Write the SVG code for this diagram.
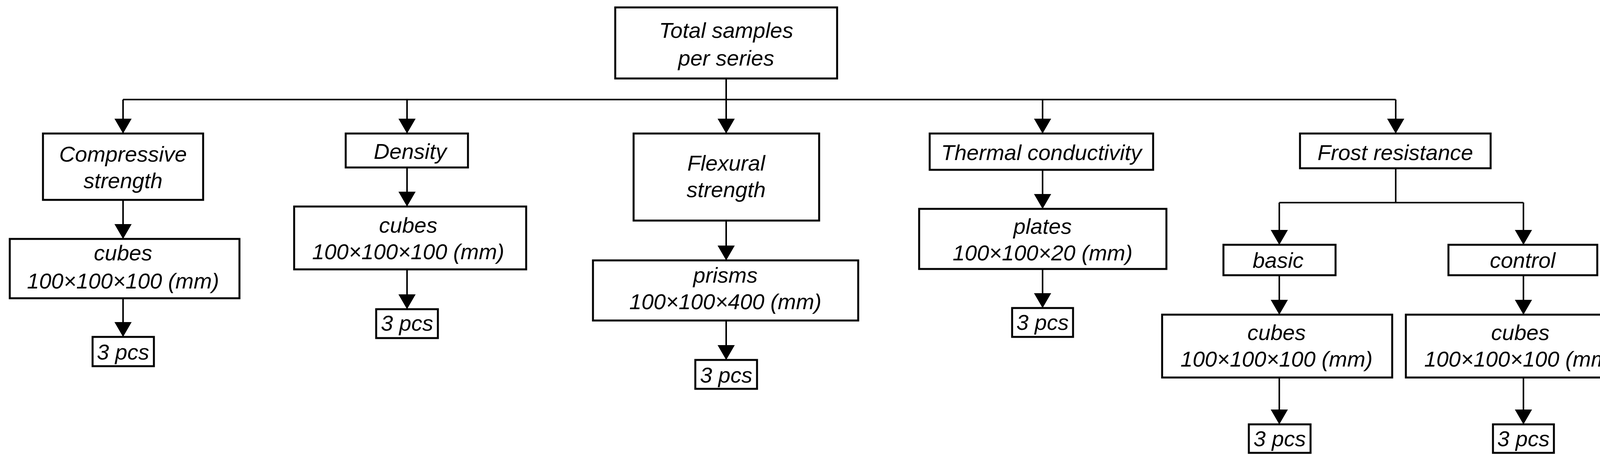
<svg xmlns="http://www.w3.org/2000/svg" width="4211" height="1186" viewBox="0 0 4211 1186">
<style>
.b{fill:#fff;stroke:#000;stroke-width:5}
.t{font-family:"Liberation Sans",Arial,sans-serif;font-style:italic;font-size:56px;text-anchor:middle;fill:#000}
.c{fill:none;stroke:#000;stroke-width:4}
</style>
<defs><marker id="a" viewBox="0 0 38 44" refX="38" refY="22" markerWidth="38" markerHeight="44" markerUnits="userSpaceOnUse" orient="auto"><path d="M0,0L38,22L0,44z" fill="#000"/></marker></defs>
<rect width="4211" height="1186" fill="#fff"/>
<g id="connectors" class="c">
<path d="M1859,201V255M315,255H3573"/>
<path d="M315,255V342" marker-end="url(#a)"/>
<path d="M1042,255V342" marker-end="url(#a)"/>
<path d="M1859,255V342" marker-end="url(#a)"/>
<path d="M2669,255V342" marker-end="url(#a)"/>
<path d="M3573,255V342" marker-end="url(#a)"/>
<path d="M315,512V612" marker-end="url(#a)"/>
<path d="M315,764V863" marker-end="url(#a)"/>
<path d="M1042,429V529" marker-end="url(#a)"/>
<path d="M1042,690V792" marker-end="url(#a)"/>
<path d="M1859,565V667" marker-end="url(#a)"/>
<path d="M1859,821V922" marker-end="url(#a)"/>
<path d="M2669,435V535" marker-end="url(#a)"/>
<path d="M2669,689V789" marker-end="url(#a)"/>
<path d="M3573,431V519M3275,519H3900"/>
<path d="M3275,519V627" marker-end="url(#a)"/>
<path d="M3900,519V627" marker-end="url(#a)"/>
<path d="M3275,705V806" marker-end="url(#a)"/>
<path d="M3900,705V806" marker-end="url(#a)"/>
<path d="M3275,967V1087" marker-end="url(#a)"/>
<path d="M3900,967V1087" marker-end="url(#a)"/>
</g>
<g id="total"><rect class="b" x="1575" y="19" width="568" height="182"/><text class="t" x="1859" y="97">Total samples</text><text class="t" x="1859" y="168">per series</text></g>
<g id="compressive"><rect class="b" x="110" y="342" width="410" height="170"/><text class="t" x="315" y="414">Compressive</text><text class="t" x="315" y="482">strength</text></g>
<g id="cubes1"><rect class="b" x="25" y="612" width="588" height="152"/><text class="t" x="315" y="667">cubes</text><text class="t" x="315" y="739">100×100×100 (mm)</text></g>
<g id="pcs1"><rect class="b" x="237" y="863" width="157" height="75"/><text class="t" x="315" y="921">3 pcs</text></g>
<g id="density"><rect class="b" x="885" y="342" width="313" height="87"/><text class="t" x="1050" y="407">Density</text></g>
<g id="cubes2"><rect class="b" x="753" y="529" width="594" height="161"/><text class="t" x="1045" y="596">cubes</text><text class="t" x="1045" y="664">100×100×100 (mm)</text></g>
<g id="pcs2"><rect class="b" x="963" y="792" width="158" height="74"/><text class="t" x="1042" y="847">3 pcs</text></g>
<g id="flexural"><rect class="b" x="1622" y="342" width="475" height="223"/><text class="t" x="1859" y="437">Flexural</text><text class="t" x="1859" y="505">strength</text></g>
<g id="prisms"><rect class="b" x="1518" y="667" width="679" height="154"/><text class="t" x="1857" y="724">prisms</text><text class="t" x="1857" y="792">100×100×400 (mm)</text></g>
<g id="pcs3"><rect class="b" x="1780" y="922" width="158" height="74"/><text class="t" x="1859" y="980">3 pcs</text></g>
<g id="thermal"><rect class="b" x="2380" y="342" width="572" height="93"/><text class="t" x="2666" y="410">Thermal conductivity</text></g>
<g id="plates"><rect class="b" x="2353" y="535" width="633" height="154"/><text class="t" x="2669" y="599">plates</text><text class="t" x="2669" y="667">100×100×20 (mm)</text></g>
<g id="pcs4"><rect class="b" x="2591" y="789" width="156" height="74"/><text class="t" x="2669" y="845">3 pcs</text></g>
<g id="frost"><rect class="b" x="3328" y="342" width="488" height="89"/><text class="t" x="3572" y="410">Frost resistance</text></g>
<g id="basic"><rect class="b" x="3132" y="627" width="287" height="78"/><text class="t" x="3272" y="686">basic</text></g>
<g id="control"><rect class="b" x="3708" y="627" width="381" height="78"/><text class="t" x="3898" y="686">control</text></g>
<g id="cubes3"><rect class="b" x="2975" y="806" width="589" height="161"/><text class="t" x="3268" y="871">cubes</text><text class="t" x="3268" y="939">100×100×100 (mm)</text></g>
<g id="cubes4"><rect class="b" x="3599" y="806" width="589" height="161"/><text class="t" x="3892" y="871">cubes</text><text class="t" x="3892" y="939">100×100×100 (mm)</text></g>
<g id="pcs5"><rect class="b" x="3197" y="1087" width="158" height="73"/><text class="t" x="3276" y="1143">3 pcs</text></g>
<g id="pcs6"><rect class="b" x="3822" y="1087" width="156" height="73"/><text class="t" x="3900" y="1143">3 pcs</text></g>
</svg>
